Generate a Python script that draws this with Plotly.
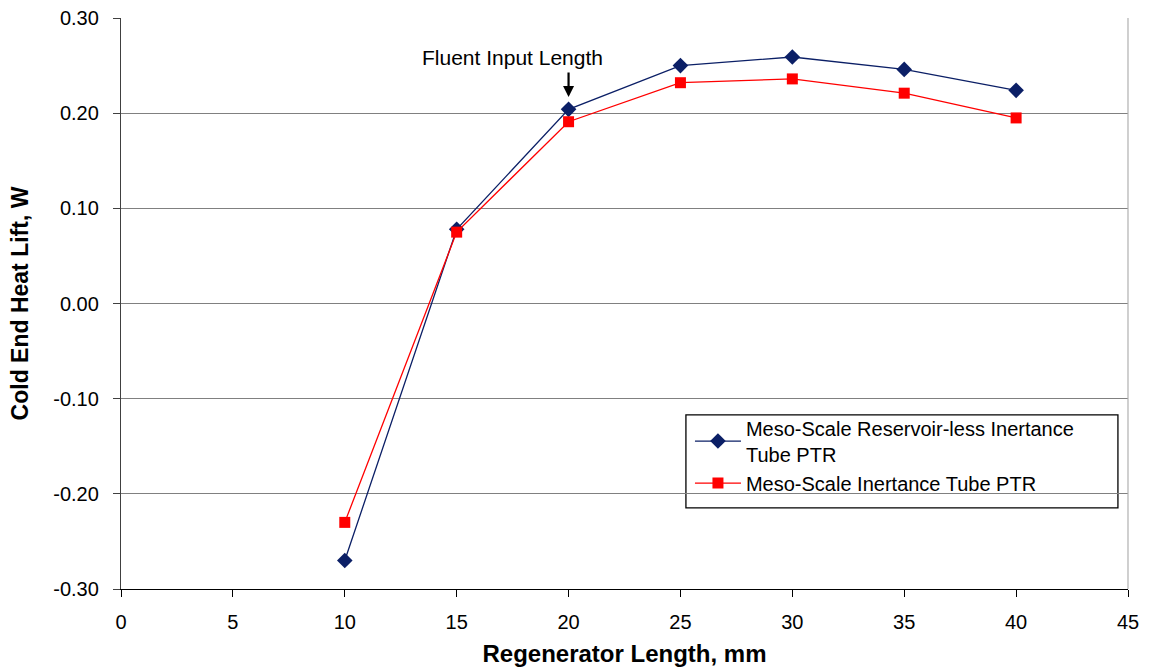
import plotly.graph_objects as go

regen_len = [10, 15, 20, 25, 30, 35, 40]
reservoir_less = [-0.270, 0.078, 0.204, 0.250, 0.259, 0.246, 0.224]
inertance = [-0.230, 0.075, 0.191, 0.232, 0.236, 0.221, 0.195]
y_ticks = [-0.30, -0.20, -0.10, 0.00, 0.10, 0.20, 0.30]
x_ticks = [0, 5, 10, 15, 20, 25, 30, 35, 40, 45]

font = "Liberation Sans, Arial, sans-serif"

fig = go.Figure()
fig.add_trace(go.Scatter(
    x=regen_len, y=reservoir_less, mode="lines+markers",
    name="Meso-Scale Reservoir-less Inertance<br>Tube PTR",
    line=dict(color="#0b1f66", width=1.3),
    marker=dict(symbol="diamond", size=12, color="#0b1f66"),
))
fig.add_trace(go.Scatter(
    x=regen_len, y=inertance, mode="lines+markers",
    name="Meso-Scale Inertance Tube PTR",
    line=dict(color="#ff0000", width=1.3),
    marker=dict(symbol="square", size=11, color="#ff0000"),
))

fig.add_annotation(x=20, y=0.217, xref="x", yref="y", ax=0, ay=-26,
                   showarrow=True, arrowhead=2, arrowsize=1, arrowwidth=2.2,
                   arrowcolor="black", text="")
fig.add_annotation(x=20, y=0.259, xref="x", yref="y", text="Fluent Input Length",
                   showarrow=False, xanchor="right", xshift=36,
                   font=dict(family=font, size=21, color="black"))

# legend frame (drawn as a box slightly taller than the legend entries)
fig.add_shape(type="rect", xref="paper", yref="paper",
              x0=0.561, x1=0.990, y0=0.142, y1=0.305,
              line=dict(color="black", width=1.3), fillcolor="white", layer="below")

fig.update_layout(
    width=1153, height=667,
    margin=dict(l=121, r=25, t=18, b=78),
    paper_bgcolor="white", plot_bgcolor="white",
    font=dict(family=font, size=20, color="black"),
    showlegend=True,
    legend=dict(x=0.565, y=0.316, xanchor="left", yanchor="top",
                borderwidth=0, bgcolor="rgba(0,0,0,0)",
                font=dict(family=font, size=20), tracegroupgap=0,
                itemwidth=46),
    xaxis=dict(range=[0, 45], tickvals=x_ticks, ticktext=[str(v) for v in x_ticks],
               showgrid=False, zeroline=False, showline=True, linecolor="black",
               linewidth=1.3, ticks="outside", ticklen=7, tickcolor="black",
               automargin=False, ticklabelstandoff=8,
               title=dict(text="<b>Regenerator Length, mm</b>", standoff=14,
                          font=dict(family=font, size=24))),
    yaxis=dict(range=[-0.30, 0.30], tickvals=y_ticks,
               ticktext=["%.2f" % v for v in y_ticks],
               showgrid=True, gridcolor="#808080", gridwidth=1.2,
               zeroline=False, showline=True, linecolor="#404040",
               linewidth=1.3, ticks="outside", ticklen=7, tickcolor="#404040",
               automargin=False, ticklabelstandoff=10,
               title=dict(text="<b>Cold End Heat Lift, W</b>", standoff=18,
                          font=dict(family=font, size=23))),
)
fig.add_shape(type="line", xref="paper", yref="paper", x0=1, x1=1, y0=0, y1=1,
              line=dict(color="#b0b0b0", width=1.2))

fig.write_html("out.html")
